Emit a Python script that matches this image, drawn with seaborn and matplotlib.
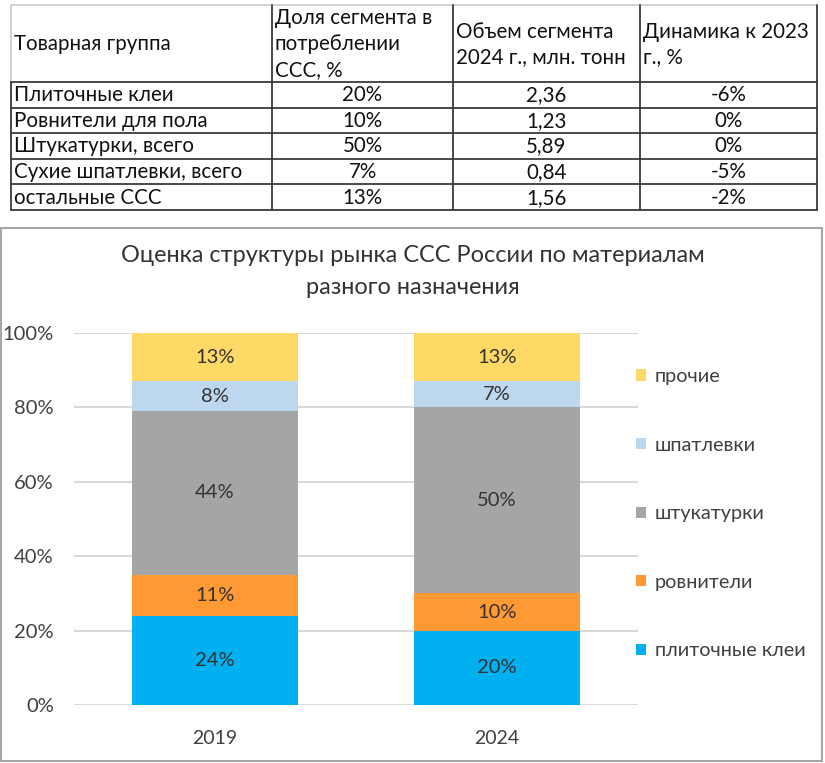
import matplotlib
matplotlib.use("Agg")
import matplotlib.pyplot as plt
import numpy as np
import pandas as pd
import seaborn as sns
from matplotlib.lines import Line2D
from matplotlib.patches import Patch, Rectangle

# table data
table_groups = ['Плиточные клеи', 'Ровнители для пола', 'Штукатурки, всего',
                'Сухие шпатлевки, всего', 'остальные ССС']
table_share = ['20%', '10%', '50%', '7%', '13%']
table_volume = ['2,36', '1,23', '5,89', '0,84', '1,56']
table_dyn = ['-6%', '0%', '0%', '-5%', '-2%']
table_headers = [
    ['Товарная группа'],
    ['Доля сегмента в', 'потреблении', 'ССС, %'],
    ['Объем сегмента', '2024 г., млн. тонн'],
    ['Динамика к 2023', 'г., %'],
]

# chart data
years = ['2019', '2024']
segments = ['плиточные клеи', 'ровнители', 'штукатурки', 'шпатлевки', 'прочие']
share_2019 = [24, 11, 44, 8, 13]
share_2024 = [20, 10, 50, 7, 13]
seg_colors = ['#00B0F0', '#FF9933', '#A5A5A5', '#BDD7EE', '#FFD966']

W, H = 825, 763


def fx(px):
    return px / W


def fy(py):
    return 1 - py / H


sns.set_theme(style='white')
plt.rcParams['font.family'] = ['Lato', 'DejaVu Sans']

fig = plt.figure(figsize=(W / 100, H / 100), dpi=100)

# ---- table ----
col_x = [11, 272, 453, 640, 817]
row_y = [5, 82, 107.6, 133.2, 158.8, 184.4, 210]
line_kw = dict(color='#3a3a3a', lw=1.3, transform=fig.transFigure)
light_kw = dict(color='#cfcfcf', lw=1.3, transform=fig.transFigure)

fig.add_artist(Line2D([fx(col_x[0]), fx(col_x[-1])], [fy(row_y[0])] * 2, **light_kw))
fig.add_artist(Line2D([fx(col_x[0])] * 2, [fy(row_y[0]), fy(row_y[1])], **light_kw))
fig.add_artist(Line2D([fx(col_x[0])] * 2, [fy(row_y[1]), fy(row_y[-1])], **line_kw))
for x in col_x[1:]:
    fig.add_artist(Line2D([fx(x)] * 2, [fy(row_y[0]), fy(row_y[-1])], **line_kw))
for y in row_y[1:]:
    fig.add_artist(Line2D([fx(col_x[0]), fx(col_x[-1])], [fy(y)] * 2, **line_kw))

tab_fs = 14.8
head_mid = (row_y[0] + row_y[1]) / 2
for j, lines in enumerate(table_headers):
    n = len(lines)
    for k, txt in enumerate(lines):
        y = head_mid + 1 + (k - (n - 1) / 2) * 26
        fig.text(fx(col_x[j] + 3), fy(y), txt, ha='left', va='center',
                 fontsize=tab_fs, color='#111111')

for i in range(len(table_groups)):
    y = (row_y[i + 1] + row_y[i + 2]) / 2 + 0.5
    fig.text(fx(col_x[0] + 3), fy(y), table_groups[i], ha='left', va='center',
             fontsize=tab_fs, color='#111111')
    for j, vals in enumerate([table_share, table_volume, table_dyn], start=1):
        fig.text(fx((col_x[j] + col_x[j + 1]) / 2), fy(y), vals[i], ha='center',
                 va='center', fontsize=tab_fs, color='#111111')

# ---- chart frame ----
fig.add_artist(Rectangle((fx(1), fy(761)), fx(822) - fx(1), fy(228) - fy(761),
                         transform=fig.transFigure, fill=False,
                         edgecolor='#a6a6a6', lw=1.5))

fig.text(fx(413), fy(255), 'Оценка структуры рынка ССС России по материалам',
         ha='center', va='center', fontsize=16.9, color='#333333')
fig.text(fx(413), fy(288), 'разного назначения',
         ha='center', va='center', fontsize=16.9, color='#333333')

ax = fig.add_axes([fx(74), fy(705), fx(638) - fx(74), fy(333) - fy(705)])

df = pd.DataFrame({
    'year': np.repeat(years, len(segments)),
    'segment': segments * len(years),
    'share': share_2019 + share_2024,
})
df['cum'] = df.groupby('year')['share'].cumsum()
df['bottom'] = df['cum'] - df['share']

# stacked bars: draw cumulative totals from top segment downwards
for seg, col in reversed(list(zip(segments, seg_colors))):
    sub = df[df['segment'] == seg]
    sns.barplot(data=sub, x='year', y='cum', order=years, color=col,
                saturation=1, width=0.59, errorbar=None, ax=ax, zorder=3,
                linewidth=0, edgecolor='none')

for _, r in df.iterrows():
    xi = years.index(r['year'])
    ax.text(xi, r['bottom'] + r['share'] / 2, f"{r['share']}%", ha='center',
            va='center', fontsize=14.5, color='#333333', zorder=4)

ax.set_ylim(0, 100)
ax.set_xlim(-0.5, 1.5)
ax.set_yticks(range(0, 101, 20))
ax.set_yticklabels([f'{v}%' for v in range(0, 101, 20)])
ax.yaxis.grid(True, color='#d9d9d9', lw=1.5, zorder=0)
ax.set_axisbelow(True)
for s in ax.spines.values():
    s.set_visible(False)
ax.set_xlabel('')
ax.set_ylabel('')
ax.tick_params(axis='y', length=0, pad=14.5, labelsize=14.5, labelcolor='#404040')
ax.tick_params(axis='x', length=0, pad=18, labelsize=14, labelcolor='#404040')

handles = [Patch(facecolor=c, edgecolor='none') for c in seg_colors][::-1]
fig.legend(handles, segments[::-1], loc='upper left',
           bbox_to_anchor=(fx(628), fy(360)), frameon=False, fontsize=14.3,
           labelcolor='#404040', handlelength=0.5, handleheight=0.5,
           handletextpad=0.45, labelspacing=2.6, borderaxespad=0)

fig.savefig('out.png', dpi=100)
